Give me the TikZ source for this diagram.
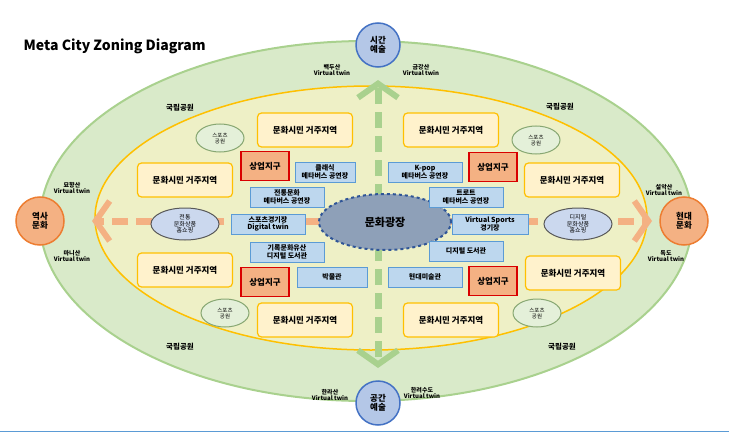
\documentclass[tikz,border=0pt]{standalone}
\usepackage{fontspec}
\setmainfont{Noto Sans CJK KR}
\usetikzlibrary{arrows.meta,shapes.geometric}
\definecolor{parkfill}{HTML}{D9EAC9}
\definecolor{parkline}{HTML}{A9D18E}
\definecolor{cityfill}{HTML}{EEF0C6}
\definecolor{cityline}{HTML}{FFC000}
\definecolor{homefill}{HTML}{FFF2CC}
\definecolor{shopfill}{HTML}{F4B183}
\definecolor{bluefill}{HTML}{BDD7EE}
\definecolor{blueline}{HTML}{5B9BD5}
\definecolor{plazafill}{HTML}{8EA0B8}
\definecolor{plazaline}{HTML}{2F5597}
\definecolor{timefill}{HTML}{B4C7E7}
\definecolor{timeline}{HTML}{4472C4}
\definecolor{histline}{HTML}{ED7D31}
\tikzset{every picture/.style={line width=0.75pt}}
\tikzset{
  homebox/.style={draw=cityline,fill=homefill,rounded corners=4pt,line width=1.2pt,minimum width=95pt,minimum height=34pt,font=\fontsize{8.5}{9}\selectfont\bfseries},
  shopbox/.style={draw=red!85!black,fill=shopfill,line width=1.2pt,minimum width=48pt,minimum height=29pt,font=\fontsize{8.5}{9}\selectfont\bfseries},
  venuebox/.style={draw=blueline,fill=bluefill,line width=1pt,minimum width=74pt,minimum height=20pt,inner sep=1pt,align=center,font=\fontsize{7}{7.5}\selectfont\bfseries},
  sportpark/.style={draw=parkline!80!black,fill=parkfill!70!white,ellipse,line width=1pt,minimum width=48pt,minimum height=28pt,inner sep=0pt,align=center,font=\fontsize{5.5}{6}\selectfont},
  shopping/.style={draw=gray!70!black,fill=timefill!70!white,ellipse,line width=1pt,minimum width=68pt,minimum height=32pt,inner sep=0pt,align=center,font=\fontsize{6}{6.5}\selectfont},
  twin/.style={align=center,font=\fontsize{6}{6.5}\selectfont\bfseries},
  parklabel/.style={font=\fontsize{7.5}{8}\selectfont\bfseries},
  axisnode/.style={circle,line width=1.5pt,minimum size=44pt,inner sep=0pt,align=center,font=\fontsize{8.5}{9.5}\selectfont\bfseries},
  axisline/.style={line width=7pt,dash pattern=on 16pt off 8pt,-{Straight Barb[length=14pt,width=40pt,line width=6pt]}}
}

\begin{document}
\begin{tikzpicture}[x=1pt,y=1pt,yscale=-1,xscale=1]
\useasboundingbox (0,0) rectangle (733,433);

%Shape: Ellipse [park]
\draw [draw=parkline,fill=parkfill,line width=2pt] (366,221) ellipse (326 and 180);
%Shape: Ellipse [city]
\draw [draw=cityline,fill=cityfill,line width=1.5pt] (371,218) ellipse (276 and 132);

%Straight Lines [axes]
\draw [axisline,draw=shopfill] (320,221) -- (92,221);
\draw [axisline,draw=shopfill] (450,221) -- (652,221);
\draw [axisline,draw=parkline] (378,200) -- (378,80);
\draw [axisline,draw=parkline] (378,245) -- (378,368);

% Title
\node [anchor=west,font=\fontsize{14}{16}\selectfont\bfseries] (title) at (20,46) {Meta City Zoning Diagram};

% Axis nodes
\node [axisnode,draw=timeline,fill=timefill] (time) at (378,45) {시간\\예술};
\node [axisnode,draw=timeline,fill=timefill] (space) at (378,403) {공간\\예술};
\node [axisnode,draw=histline,fill=shopfill,minimum size=48pt] (history) at (40,221) {역사\\문화};
\node [axisnode,draw=histline,fill=shopfill,minimum size=48pt] (modern) at (684,221) {현대\\문화};

% Plaza
\node [ellipse,draw=plazaline,fill=plazafill,line width=2pt,dashed,minimum width=132pt,minimum height=56pt,font=\fontsize{11}{12}\selectfont\bfseries] (plaza) at (385,222) {문화광장};

% Residential
\node [homebox] (homeA) at (305,130) {문화시민 거주지역};
\node [homebox] (homeB) at (451,130) {문화시민 거주지역};
\node [homebox] (homeC) at (185,180) {문화시민 거주지역};
\node [homebox] (homeD) at (572,180) {문화시민 거주지역};
\node [homebox] (homeE) at (185,270) {문화시민 거주지역};
\node [homebox] (homeF) at (573,273) {문화시민 거주지역};
\node [homebox] (homeG) at (305,320) {문화시민 거주지역};
\node [homebox] (homeH) at (451,320) {문화시민 거주지역};

% Commercial
\node [shopbox] (shopA) at (265,166) {상업지구};
\node [shopbox] (shopB) at (493,167) {상업지구};
\node [shopbox] (shopC) at (265,282) {상업지구};
\node [shopbox] (shopD) at (493,281) {상업지구};

% Sports parks
\node [sportpark] (sportA) at (220,138) {스포츠\\공원};
\node [sportpark] (sportB) at (536,140) {스포츠\\공원};
\node [sportpark] (sportC) at (225,313) {스포츠\\공원};
\node [sportpark] (sportD) at (537,313) {스포츠\\공원};

% Shopping
\node [shopping] (shopTV) at (185,224) {전통\\문화상품\\홈쇼핑};
\node [shopping] (shopDigital) at (578,224) {디지털\\문화상품\\홈쇼핑};

% Venues
\node [venuebox,minimum width=60pt] (classic) at (325,172) {클래식\\메타버스 공연장};
\node [venuebox] (tradition) at (287,197) {전통문화\\메타버스 공연장};
\node [venuebox] (stadium) at (268,224) {스포츠경기장\\Digital twin};
\node [venuebox] (archive) at (287,252) {기록문화유산\\디지털 도서관};
\node [venuebox,minimum width=70pt] (museum) at (332,277) {박물관};
\node [venuebox] (kpop) at (425,172) {K-pop\\메타버스 공연장};
\node [venuebox] (trot) at (466,197) {트로트\\메타버스 공연장};
\node [venuebox,minimum width=76pt] (vsports) at (490,224) {Virtual Sports\\경기장};
\node [venuebox] (library) at (466,251) {디지털 도서관};
\node [venuebox] (artmuseum) at (425,277) {현대미술관};

% Parks
\node [parklabel] (parkNW) at (180,108) {국립공원};
\node [parklabel] (parkNE) at (560,107) {국립공원};
\node [parklabel] (parkSW) at (180,347) {국립공원};
\node [parklabel] (parkSE) at (562,347) {국립공원};

% Virtual twins
\node [twin] (baekdu) at (332,70) {백두산\\Virtual twin};
\node [twin] (geumgang) at (421,70) {금강산\\Virtual twin};
\node [twin] (myohyang) at (72,188) {묘향산\\Virtual twin};
\node [twin] (seorak) at (664,190) {설악산\\Virtual twin};
\node [twin] (mani) at (72,256) {마니산\\Virtual twin};
\node [twin] (dokdo) at (666,256) {독도\\Virtual twin};
\node [twin] (halla) at (330,395) {한라산\\Virtual twin};
\node [twin] (hallyeo) at (422,393) {한려수도\\Virtual twin};

%Straight Lines [bottom rule]
\draw [draw=blueline,line width=1pt] (0,431) -- (729,431);
\end{tikzpicture}
\end{document}
